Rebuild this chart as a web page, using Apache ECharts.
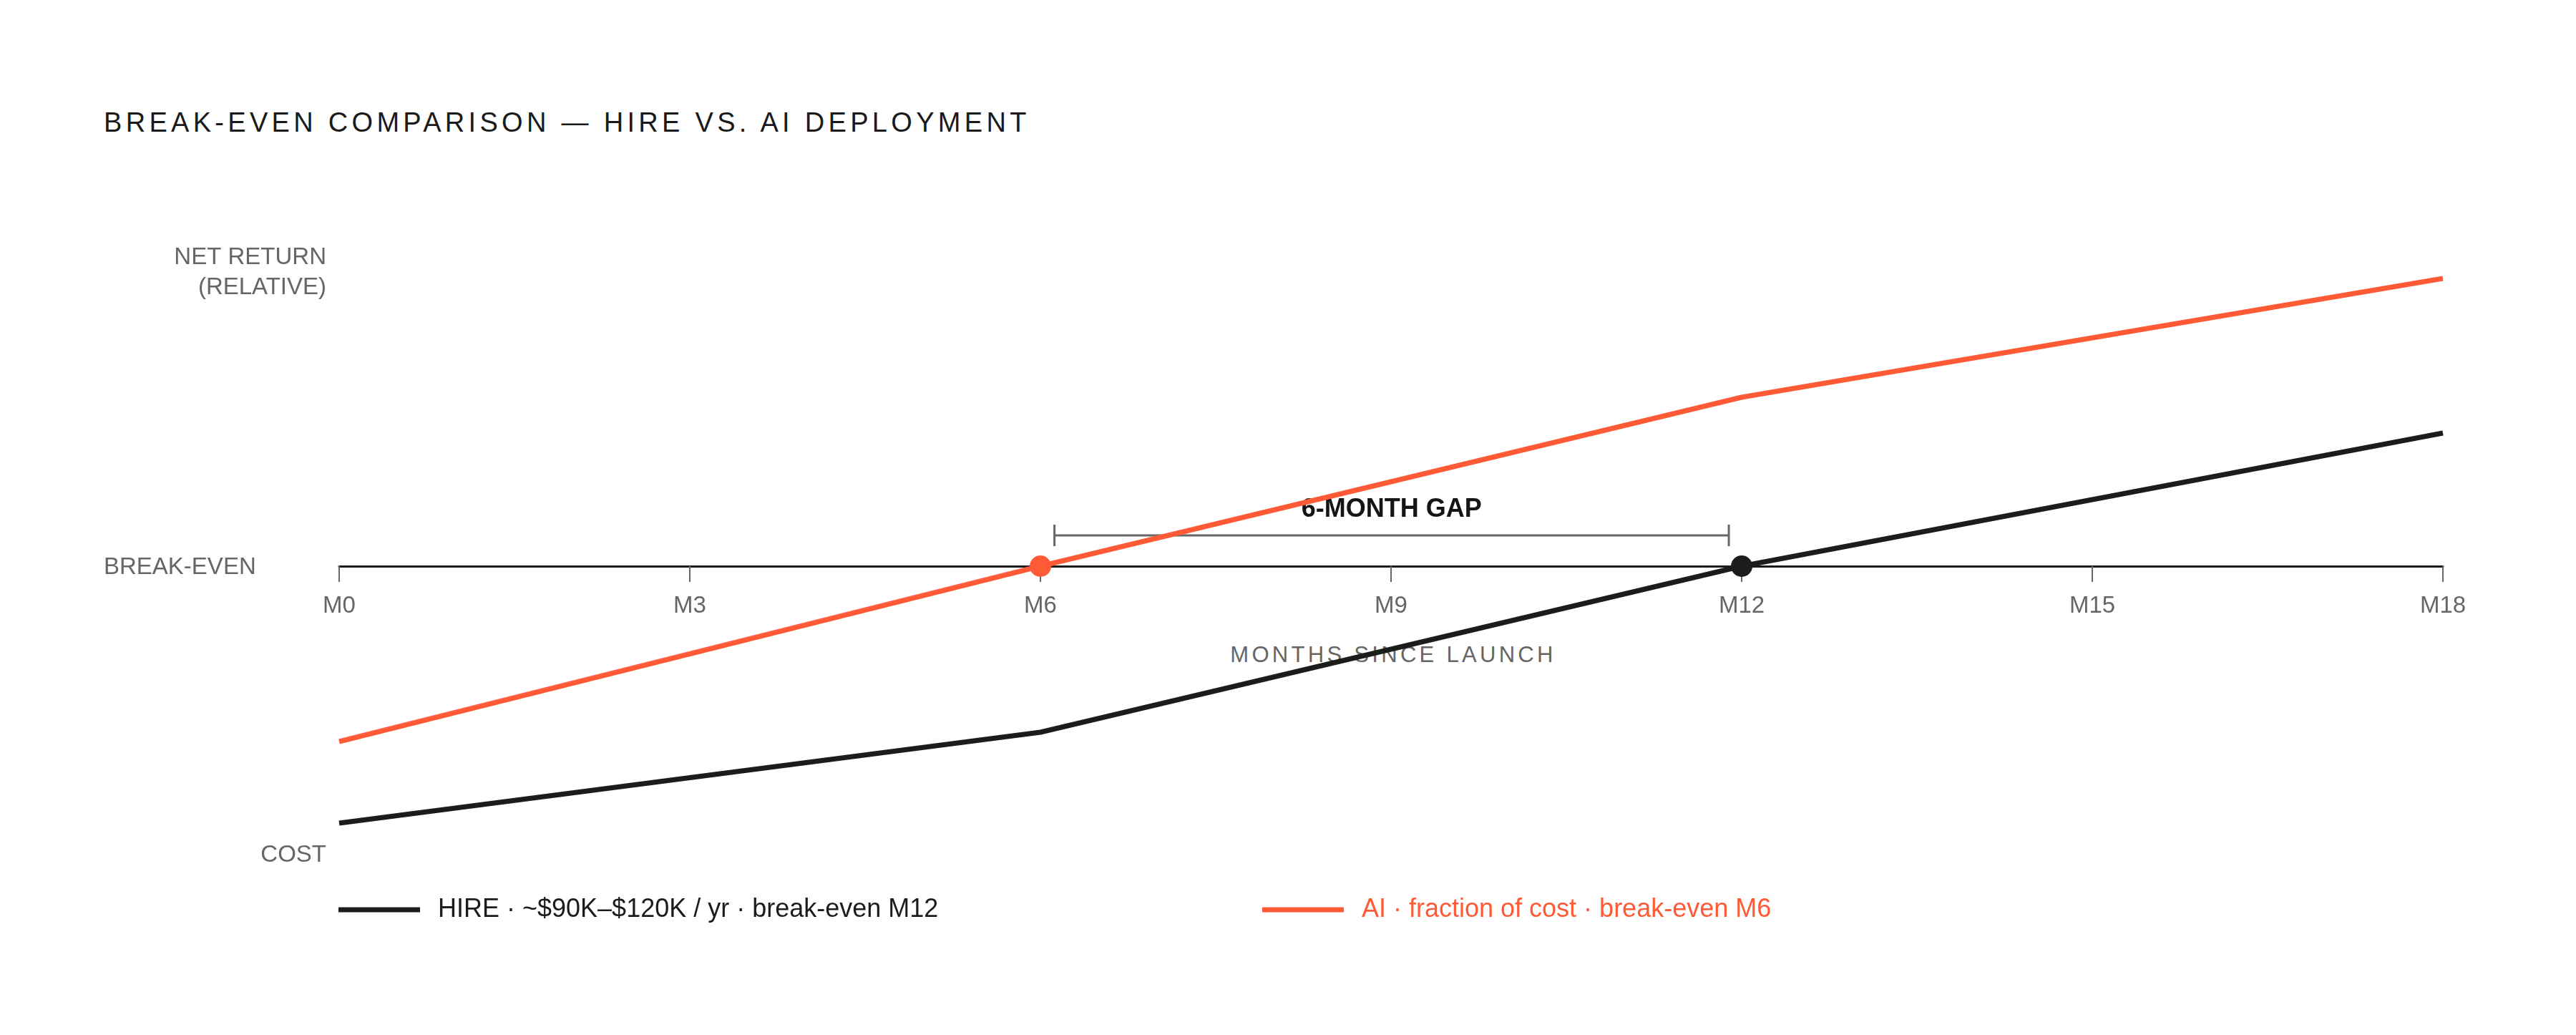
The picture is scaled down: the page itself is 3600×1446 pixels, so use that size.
<!DOCTYPE html>
<html style="height: 100%;width:100%">

<head>
    <meta charset="utf-8">
    <style>
        * {
            box-sizing: border-box;
        }

        html,
        body {
            padding: 0;
            margin: 0;
            height: 100%;
            width: 100%;
            background: #ffffff;
            font-family: "Liberation Sans", Arial, sans-serif;
        }

        #chart-panel {
            position: absolute;
            left: 0;
            top: 0;
            width: 100%;
            height: 100%;
            z-index: 1;
        }

        /* spaced-out caps sit behind the canvas, so the lines cross over them */
        .chart-title {
            position: absolute;
            left: 145px;
            top: 152px;
            font-size: 38px;
            line-height: 38px;
            letter-spacing: 5.3px;
            color: #1a1a1a;
            white-space: nowrap;
            z-index: 0;
        }

        .axis-name {
            position: absolute;
            left: 1947px;
            top: 899px;
            transform: translateX(-50%);
            font-size: 31px;
            line-height: 31px;
            letter-spacing: 4.3px;
            color: #666666;
            white-space: nowrap;
            z-index: 0;
        }
    </style>
</head>

<body>
    <div class="chart-title">BREAK-EVEN COMPARISON — HIRE VS. AI DEPLOYMENT</div>
    <div class="axis-name">MONTHS SINCE LAUNCH</div>
    <div id="chart-panel"></div>

    <script type="text/javascript" src="https://cdn.jsdelivr.net/npm/echarts@6.0.0/dist/echarts.min.js"></script>
    <script type="text/javascript">
        // data (relative units, break-even = 0)
        var months = [0, 6, 12, 18];
        var hireValues = [-35.9, -23.2, 0, 18.6];
        var aiValues = [-24.5, 0, 23.6, 40.2];
        var tickMonths = [0, 3, 6, 9, 12, 15, 18];
        var hireBreakEven = 12;
        var aiBreakEven = 6;
        var gapStart = 6.12;
        var gapEnd = 11.89;
        var gapLevel = 4.3;
        var gapCap = 1.5;

        var hireName = 'HIRE · ~$90K–$120K / yr · break-even M12';
        var aiName = 'AI · fraction of cost · break-even M6';
        var gapLabel = '6-MONTH GAP';

        var BLACK = '#1b1d1b';
        var ORANGE = '#ff5a36';
        var GRAY = '#666666';
        var FONT = 'Liberation Sans';

        // y range of the grid; the month axis is pushed up onto y = 0
        var yMin = -40;
        var yMax = 42;
        var gridTop = 371;
        var gridBottom = 255;
        var gridHeight = 1446 - gridTop - gridBottom;

        function zip (xs, ys) {
            return xs.map(function (x, i) { return [x, ys[i]]; });
        }

        var dom = document.getElementById('chart-panel');
        var myChart = echarts.init(dom, null, { renderer: 'canvas' });

        var bracket = [
            [gapStart, gapLevel + gapCap],
            [gapStart, gapLevel - gapCap],
            [gapStart, gapLevel],
            [gapEnd, gapLevel],
            [gapEnd, gapLevel - gapCap],
            [gapEnd, gapLevel + gapCap]
        ];

        var option = {
            backgroundColor: 'transparent',
            animation: false,
            textStyle: { fontFamily: FONT },
            grid: {
                left: 474,
                right: 186,
                top: gridTop,
                bottom: gridBottom,
                containLabel: false
            },
            xAxis: {
                type: 'value',
                min: tickMonths[0],
                max: tickMonths[tickMonths.length - 1],
                interval: 3,
                position: 'bottom',
                offset: -gridHeight * (0 - yMin) / (yMax - yMin),
                axisLine: {
                    onZero: false,
                    lineStyle: { color: BLACK, width: 3 }
                },
                axisTick: {
                    show: true,
                    length: 22,
                    lineStyle: { color: GRAY, width: 2 }
                },
                axisLabel: {
                    formatter: 'M{value}',
                    color: GRAY,
                    fontSize: 33,
                    fontFamily: FONT,
                    margin: 39
                },
                splitLine: { show: false }
            },
            yAxis: {
                type: 'value',
                min: yMin,
                max: yMax,
                show: false,
                splitLine: { show: false }
            },
            legend: [
                {
                    data: [hireName],
                    left: 473,
                    top: 1253,
                    padding: 0,
                    icon: 'rect',
                    itemWidth: 114,
                    itemHeight: 7,
                    selectedMode: false,
                    textStyle: {
                        color: BLACK,
                        fontSize: 36,
                        fontFamily: FONT,
                        padding: [0, 0, 0, 20]
                    }
                },
                {
                    data: [aiName],
                    left: 1764,
                    top: 1253,
                    padding: 0,
                    icon: 'rect',
                    itemWidth: 114,
                    itemHeight: 7,
                    selectedMode: false,
                    textStyle: {
                        color: ORANGE,
                        fontSize: 36,
                        fontFamily: FONT,
                        padding: [0, 0, 0, 20]
                    }
                }
            ],
            graphic: [
                {
                    type: 'text',
                    x: 456,
                    y: 381,
                    style: {
                        text: 'NET RETURN\n(RELATIVE)',
                        fill: GRAY,
                        fontSize: 33,
                        fontFamily: FONT,
                        lineHeight: 42,
                        align: 'right',
                        verticalAlign: 'middle'
                    }
                },
                {
                    type: 'text',
                    x: 145,
                    y: 793,
                    style: {
                        text: 'BREAK-EVEN',
                        fill: GRAY,
                        fontSize: 33,
                        fontFamily: FONT,
                        align: 'left',
                        verticalAlign: 'middle'
                    }
                },
                {
                    type: 'text',
                    x: 456,
                    y: 1195,
                    style: {
                        text: 'COST',
                        fill: GRAY,
                        fontSize: 33,
                        fontFamily: FONT,
                        align: 'right',
                        verticalAlign: 'middle'
                    }
                }
            ],
            series: [
                {
                    name: 'gap',
                    type: 'line',
                    data: bracket,
                    symbol: 'none',
                    silent: true,
                    z: 2,
                    lineStyle: { color: GRAY, width: 3, join: 'miter', cap: 'butt' }
                },
                {
                    name: 'gap label',
                    type: 'scatter',
                    data: [[(gapStart + gapEnd) / 2, gapLevel]],
                    symbolSize: 0,
                    silent: true,
                    z: 2,
                    itemStyle: { opacity: 1 },
                    label: {
                        show: true,
                        position: 'top',
                        distance: 18,
                        formatter: gapLabel,
                        color: '#151515',
                        opacity: 1,
                        fontSize: 36,
                        fontWeight: 'bold',
                        fontFamily: FONT
                    }
                },
                {
                    name: hireName,
                    type: 'line',
                    data: zip(months, hireValues),
                    symbol: 'none',
                    color: BLACK,
                    z: 3,
                    lineStyle: { color: BLACK, width: 7 }
                },
                {
                    name: aiName,
                    type: 'line',
                    data: zip(months, aiValues),
                    symbol: 'none',
                    color: ORANGE,
                    z: 4,
                    lineStyle: { color: ORANGE, width: 7 }
                },
                {
                    name: 'AI break-even',
                    type: 'scatter',
                    data: [[aiBreakEven, 0]],
                    symbol: 'circle',
                    symbolSize: 30,
                    z: 5,
                    itemStyle: { color: ORANGE, opacity: 1 }
                },
                {
                    name: 'HIRE break-even',
                    type: 'scatter',
                    data: [[hireBreakEven, 0]],
                    symbol: 'circle',
                    symbolSize: 30,
                    z: 5,
                    itemStyle: { color: BLACK, opacity: 1 }
                }
            ]
        };

        if (option && typeof option === 'object') {
            myChart.setOption(option);
        }
        window.addEventListener('resize', function () {
            myChart.resize();
        });
    </script>
</body>

</html>
